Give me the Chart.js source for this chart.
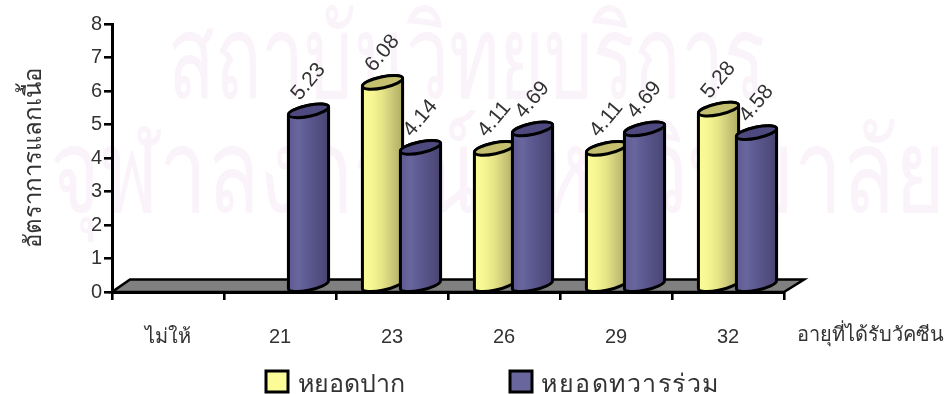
<!DOCTYPE html>
<html>
<head>
<meta charset="utf-8">
<style>html,body{margin:0;padding:0;background:#fff;overflow:hidden}#w{width:945px;height:394px}</style>
<script src="https://cdn.jsdelivr.net/npm/chart.js@4"></script>
</head>
<body>
<div id="w"><canvas id="c" width="945" height="394"></canvas></div>
<script>
const categories = ['ไม่ให้', '21', '23', '26', '29', '32'];
const oralValues = [null, null, 6.08, 4.11, 4.11, 5.28];
const ventValues = [null, 5.23, 4.14, 4.69, 4.69, 4.58];
const oralLabel = 'หยอดปาก';
const ventLabel = 'หยอดทวารร่วม';
const yTitle = 'อัตราการแลกเนื้อ';
const xTitle = 'อายุที่ได้รับวัคซีน';
const watermark = ['สถาบันวิทยบริการ', 'จุฬาลงกรณ์มหาวิทยาลัย'];

const FONT = '"Liberation Sans", Arial, sans-serif';
const THEME = {
  oral: {stops: ['#fbfb98', '#f6f692', '#e6e488', '#c9c678', '#b0ac60'], top: '#c4c070'},
  vent: {stops: ['#5e5a92', '#68669c', '#5c5890', '#524e80', '#484470'], top: '#4e4a80'}
};
const DX = 9.5, DY = -6, RX = 20.5, RY = 5.5, ROT = -12 * Math.PI / 180;

function cylinder(ctx, cx, yTop, yBase, th) {
  const t0 = Math.atan2(-RY * Math.sin(ROT), RX * Math.cos(ROT));
  const g = ctx.createLinearGradient(cx - RX, 0, cx + RX, 0);
  th.stops.forEach((s, i) => g.addColorStop(i / (th.stops.length - 1), s));
  ctx.beginPath();
  ctx.ellipse(cx, yBase, RX, RY, ROT, t0, t0 + Math.PI);
  ctx.ellipse(cx, yTop, RX, RY, ROT, t0 + Math.PI, t0 + 2 * Math.PI);
  ctx.closePath();
  ctx.fillStyle = g;
  ctx.fill();
  ctx.lineWidth = 3;
  ctx.strokeStyle = '#000';
  ctx.lineJoin = 'round';
  ctx.stroke();
  ctx.beginPath();
  ctx.ellipse(cx, yTop, RX, RY, ROT, 0, 2 * Math.PI);
  ctx.fillStyle = th.top;
  ctx.fill();
  ctx.stroke();
}

const scene = {
  id: 'scene',
  beforeDraw(chart) {
    const ctx = chart.ctx;
    ctx.save();
    ctx.fillStyle = '#faf3fa';
    ctx.textAlign = 'left';
    ctx.textBaseline = 'alphabetic';
    ctx.font = '116px "Liberation Sans", "Noto Sans", sans-serif';
    ctx.fillText(watermark[0], 168, 98, 597);
    ctx.fillText(watermark[1], 50, 212, 895);
    ctx.restore();
  },
  beforeDatasetsDraw(chart) {
    const ctx = chart.ctx, a = chart.chartArea;
    ctx.save();
    ctx.beginPath();
    ctx.moveTo(a.left, a.bottom);
    ctx.lineTo(a.right, a.bottom);
    ctx.lineTo(a.right + 20, a.bottom - 12.5);
    ctx.lineTo(a.left + 18, a.bottom - 12.5);
    ctx.closePath();
    ctx.fillStyle = '#808080';
    ctx.fill();
    ctx.lineWidth = 2.6;
    ctx.strokeStyle = '#000';
    ctx.stroke();
    ctx.restore();
  },
  afterDatasetsDraw(chart) {
    const ctx = chart.ctx;
    const metas = [chart.getDatasetMeta(0), chart.getDatasetMeta(1)];
    const themes = [THEME.oral, THEME.vent];
    ctx.save();
    // value labels lie behind the cylinders
    ctx.font = '21px ' + FONT;
    ctx.fillStyle = '#333';
    ctx.textAlign = 'center';
    ctx.textBaseline = 'middle';
    metas.forEach((m, d) => m.data.forEach((el, i) => {
      const v = chart.data.datasets[d].data[i];
      if (v == null) return;
      ctx.save();
      ctx.translate(el.x + DX, el.y + DY - 29);
      ctx.rotate(-50 * Math.PI / 180);
      ctx.fillText(v.toFixed(2), 0, 0);
      ctx.restore();
    }));
    categories.forEach((_, i) => metas.forEach((m, d) => {
      const el = m.data[i];
      if (chart.data.datasets[d].data[i] == null) return;
      cylinder(ctx, el.x + DX, el.y + DY, el.base + DY, themes[d]);
    }));
    ctx.restore();
  },
  afterDraw(chart) {
    const ctx = chart.ctx, a = chart.chartArea;
    ctx.save();
    ctx.fillStyle = '#333';
    ctx.textBaseline = 'middle';
    ctx.textAlign = 'left';
    ctx.font = '20px ' + FONT;
    ctx.fillText(xTitle, a.right + 13, 335, 148);
    // legend
    const items = [
      [266, 298, oralLabel, THEME.oral.stops[0], '0px'],
      [510, 541, ventLabel, THEME.vent.stops[1], '1.5px']
    ];
    items.forEach(it => {
      ctx.fillStyle = it[3];
      ctx.strokeStyle = '#000';
      ctx.lineWidth = 3;
      ctx.fillRect(it[0], 371, 22, 21);
      ctx.strokeRect(it[0], 371, 22, 21);
      ctx.fillStyle = '#333';
      ctx.font = '25px ' + FONT;
      ctx.letterSpacing = it[4];
      ctx.fillText(it[2], it[1], 385);
    });
    ctx.restore();
  }
};

new Chart(document.getElementById('c'), {
  type: 'bar',
  data: {
    labels: categories,
    datasets: [
      {label: oralLabel, data: oralValues, backgroundColor: 'transparent', barThickness: 38},
      {label: ventLabel, data: ventValues, backgroundColor: 'transparent', barThickness: 38}
    ]
  },
  plugins: [scene],
  options: {
    responsive: false,
    animation: false,
    layout: {padding: {top: 24, right: 161, left: 0, bottom: 0}},
    plugins: {legend: {display: false}, tooltip: {enabled: false}},
    scales: {
      x: {
        afterFit(s) { s.height = 102; },
        grid: {drawOnChartArea: false, color: '#000', lineWidth: 2.6, tickLength: 8},
        border: {color: '#000', width: 3},
        ticks: {color: '#333', font: {family: FONT, size: 20}, padding: 25, maxRotation: 0}
      },
      y: {
        min: 0, max: 8,
        afterFit(s) { s.width = 112; },
        title: {display: true, text: yTitle, color: '#333', font: {family: FONT, size: 24}, padding: {top: 20, bottom: 0}},
        grid: {drawOnChartArea: false, color: '#000', lineWidth: 2.6, tickLength: 8},
        border: {color: '#000', width: 3},
        ticks: {stepSize: 1, color: '#333', font: {family: FONT, size: 20}, padding: 2}
      }
    }
  }
});
</script>
</body>
</html>
